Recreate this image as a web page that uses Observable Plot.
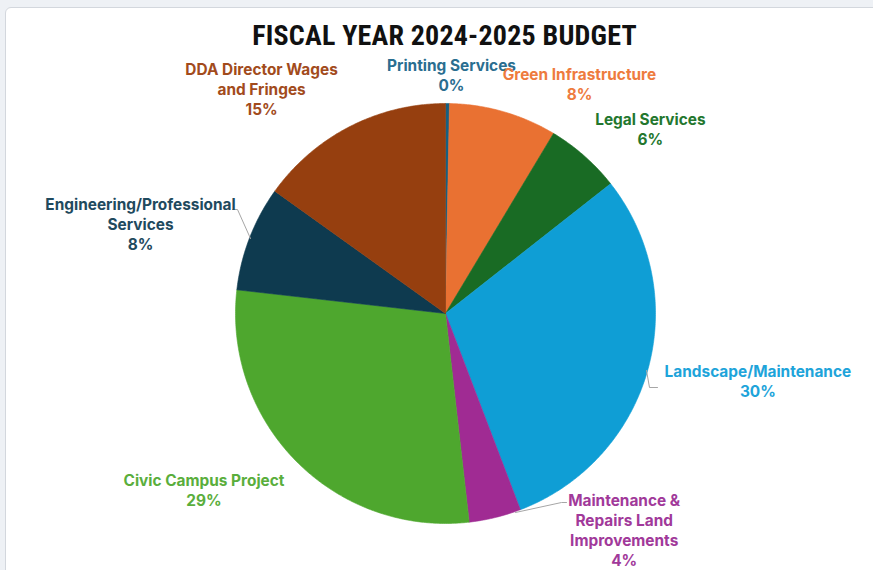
<!DOCTYPE html>
<html><head><meta charset="utf-8">
<script src="https://cdn.jsdelivr.net/npm/d3@7"></script>
<script src="https://cdn.jsdelivr.net/npm/@observablehq/plot@0.6"></script>
<style>
html,body{margin:0;padding:0;}
body{width:873px;height:570px;background:#eef1f5;position:relative;overflow:hidden;font-family:Inter,"Open Sans",sans-serif;}
#card{position:absolute;left:5px;top:7px;width:900px;height:600px;background:#fff;border:1px solid #d3d7dd;border-radius:6px;}
#title{position:absolute;left:8px;top:20px;width:873px;text-align:center;font-weight:bold;font-size:28px;line-height:32px;font-family:"Liberation Sans Narrow","Arial Narrow","Roboto Condensed",sans-serif;color:#111;letter-spacing:0.2px;}
#chart{position:absolute;left:0;top:0;}
</style></head><body>
<div id="card"></div>
<div id="title">FISCAL YEAR 2024-2025 BUDGET</div>
<div id="chart"></div>
<script>
// ---- data ----
const categories = ["Printing Services","Green Infrastructure","Legal Services","Landscape/Maintenance","Maintenance & Repairs Land Improvements","Civic Campus Project","Engineering/Professional Services","DDA Director Wages and Fringes"];
const values = [0.3, 8.3, 5.8, 29.8, 4.0, 28.6, 8.1, 15.1];
const labelText = ["Printing Services","Green Infrastructure","Legal Services","Landscape/Maintenance","Maintenance &\nRepairs Land\nImprovements","Civic Campus Project","Engineering/Professional\nServices","DDA Director Wages\nand Fringes"];
const sliceColors = ["#156082","#E97132","#196B24","#0F9ED5","#A02B93","#4EA72E","#0E3A4F","#963F0F"];
const labelColors = ["#2A6E90","#EE7B3E","#23772E","#1EA4DA","#A1399A","#5AAE3C","#1F4A5E","#A24B1C"];

// ---- layout ----
const W = 873, H = 570, cx = 445, cy = 313, R = 210;
const labelOffsets = [[4,-29],[76,-28],[66,-27],[110,11],[129,12],[-93,28],[-109,-14],[-88,-38]]; // px from slice outer midpoint
const leaderPx = [
  [[250,238],[237,209],[232,209]],
  [[646,370],[649,387],[657,387]],
  [[515,512],[561,502],[566,502]]
];

const rows = categories.map((c,i)=>({name:c, value:values[i], i}));
const arcs = d3.pie().sort(null).value(d=>d.value)(rows);

// slice polygons (unit coordinates)
const slices = [];
for (const a of arcs) {
  const poly = [[0,0]];
  const n = Math.max(2, Math.ceil((a.endAngle - a.startAngle) / (Math.PI/360)));
  for (let k=0;k<=n;k++){
    const t = a.startAngle + (a.endAngle - a.startAngle)*k/n;
    poly.push([Math.sin(t), Math.cos(t)]);
  }
  poly.push([0,0]);
  slices.push({name:a.data.name, poly});
}
// shadow disc
const shadowPoly = d3.range(0, 361, 1).map(t => [Math.sin(t*Math.PI/180), Math.cos(t*Math.PI/180) - 0.012]);

const toUnit = ([px,py]) => ({x:(px-cx)/R, y:(cy-py)/R});

const marks = [];
marks.push(Plot.line(shadowPoly.map(([x,y])=>({x,y})), {x:"x", y:"y", fill:"#000", fillOpacity:0.22, stroke:"none", ariaLabel:"shadow"}));
slices.forEach((s,i)=>{
  marks.push(Plot.line(s.poly.map(([x,y])=>({x,y,name:s.name})), {x:"x", y:"y", fill:"name", stroke:"name", strokeWidth:0.6}));
});

leaderPx.forEach(seg=>{
  marks.push(Plot.line(seg.map(toUnit), {x:"x", y:"y", stroke:"#a6a6a6", strokeWidth:1}));
});

arcs.forEach((a,i)=>{
  const mid = (a.startAngle + a.endAngle)/2;
  const ex = Math.sin(mid), ey = Math.cos(mid);
  const [dx,dy] = labelOffsets[i];
  const pct = Math.round(values[i]/d3.sum(values)*100) + "%";
  const d = {x: ex + dx/R, y: ey - dy/R, text: labelText[i] + "\n" + pct};
  marks.push(Plot.text([d], {x:"x", y:"y", text:"text", fill:labelColors[i], fontWeight:700, fontSize:15.4, lineHeight:1.3, textAnchor:"middle", fontFamily:"Inter, 'Open Sans', sans-serif"}));
});

const chart = Plot.plot({
  width: W, height: H,
  margin: 0,
  x: {domain:[-1,1], range:[cx-R, cx+R], axis:null},
  y: {domain:[-1,1], range:[cy+R, cy-R], axis:null},
  color: {type:"ordinal", domain: categories, range: sliceColors},
  style: {background:"transparent", overflow:"visible"},
  marks
});
// soften the shadow
const ns = "http://www.w3.org/2000/svg";
const defs = document.createElementNS(ns, "defs");
defs.innerHTML = '<filter id="blur" x="-20%" y="-20%" width="140%" height="140%"><feGaussianBlur stdDeviation="3"/></filter>';
chart.insertBefore(defs, chart.firstChild);
const sh = chart.querySelector('g[aria-label="shadow"]');
if (sh) sh.setAttribute("filter", "url(#blur)");
document.getElementById("chart").append(chart);
</script>
</body></html>
